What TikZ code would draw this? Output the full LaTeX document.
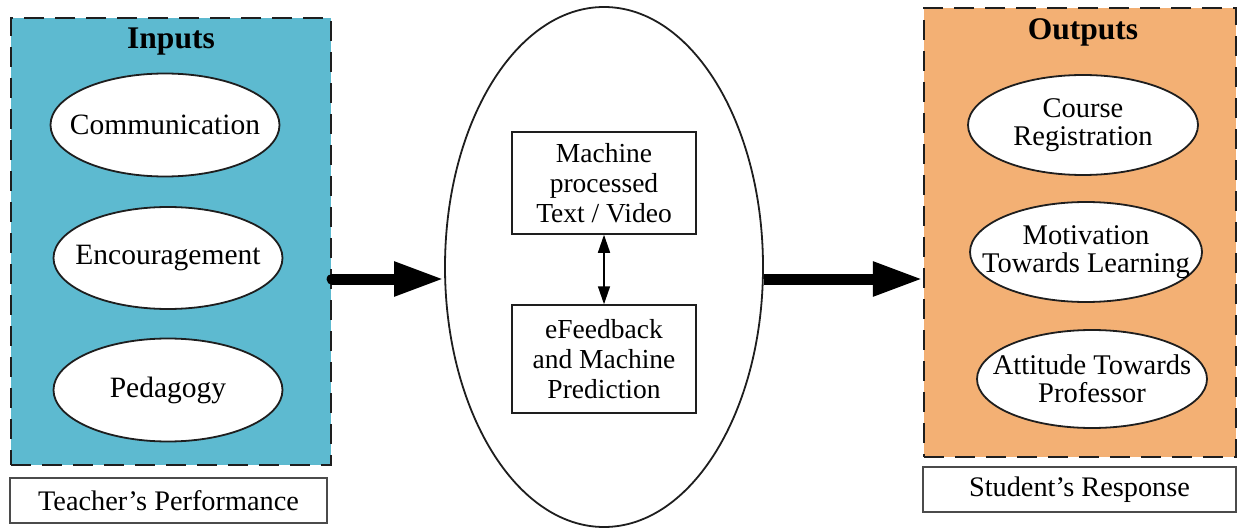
\documentclass[tikz,border=0pt]{standalone}
\usepackage{fontspec}
\setmainfont{Liberation Serif}
\usetikzlibrary{shapes.geometric,arrows.meta}
\definecolor{inblue}{RGB}{93,186,208}
\definecolor{outorange}{RGB}{243,176,116}
\definecolor{edge}{RGB}{30,30,30}
\tikzset{
  panel/.style={draw=edge, line width=2.2pt, dash pattern=on 20pt off 11pt, inner sep=0pt},
  item/.style={ellipse, draw=edge, fill=white, line width=1.8pt, inner sep=0pt},
  intext/.style={align=center, inner sep=0pt, font=\fontsize{29.5}{28}\selectfont},
  outtext/.style={align=center, inner sep=0pt, font=\fontsize{28.5}{28}\selectfont},
  stepbox/.style={rectangle, draw=edge, fill=white, line width=1.5pt, inner sep=0pt, align=center,
    minimum width=184pt, font=\fontsize{27.5}{30}\selectfont},
  caption/.style={rectangle, draw=edge!80, fill=white, line width=1.4pt, inner sep=0pt,
    font=\fontsize{28.3}{28}\selectfont},
  heading/.style={font=\fontsize{31.5}{31.5}\selectfont\bfseries},
  bigarrow/.style={line width=11pt, -{Triangle[length=50pt,width=32pt]}},
  twoway/.style={line width=1.5pt, {Triangle[length=18pt,width=12pt]}-{Triangle[length=18pt,width=12pt]}}
}
\begin{document}
\begin{tikzpicture}[x=1pt,y=-1pt]
\useasboundingbox (0,0) rectangle (1238,529);

% input panel
\node[panel, fill=inblue, minimum width=320pt, minimum height=447pt] (inbox) at (171,241.5) {};
\node[heading] (inhead) at (171,42) {Inputs};
\node[item, minimum width=229pt, minimum height=103pt, label={[intext]center:Communication}] (comm) at (165,125) {};
\node[item, minimum width=229pt, minimum height=102pt, label={[intext]center:Encouragement}] (enc) at (168,258) {};
\node[item, minimum width=229pt, minimum height=103pt, label={[intext]center:Pedagogy}] (ped) at (168,390) {};
\node[caption, minimum width=317pt, minimum height=45pt] (teach) at (168.5,500.5) {Teacher’s Performance};

% output panel
\node[panel, fill=outorange, minimum width=312pt, minimum height=449pt] (outbox) at (1080,232.5) {};
\node[heading] (outhead) at (1083,32) {Outputs};
\node[item, minimum width=230pt, minimum height=100pt, label={[outtext]center:Course\\Registration}] (course) at (1083,125) {};
\node[item, minimum width=232pt, minimum height=100pt, label={[outtext]center:Motivation\\Towards Learning}] (motiv) at (1086,252) {};
\node[item, minimum width=230pt, minimum height=98pt, label={[outtext]center:Attitude Towards\\Professor}] (att) at (1092,379) {};
\node[caption, minimum width=313pt, minimum height=45pt] (stud) at (1079.5,489.5) {Student’s Response};

% processing stage
\node[ellipse, draw=edge, line width=1.8pt, fill=white, minimum width=318pt, minimum height=520pt, inner sep=0pt] (mid) at (604,267) {};
\node[stepbox, minimum height=102pt] (proc) at (604,183) {Machine\\processed\\Text / Video};
\node[stepbox, minimum height=108pt] (fb) at (604,359) {eFeedback\\and Machine\\Prediction};
\draw[twoway] (proc.south) -- (fb.north);

% flow arrows
\coordinate (ay) at (0,279);
\draw[bigarrow, line cap=round] (inbox.east |- ay) -- (mid.west |- ay);
\draw[bigarrow] (mid.east |- ay) -- (outbox.west |- ay);
\end{tikzpicture}
\end{document}
